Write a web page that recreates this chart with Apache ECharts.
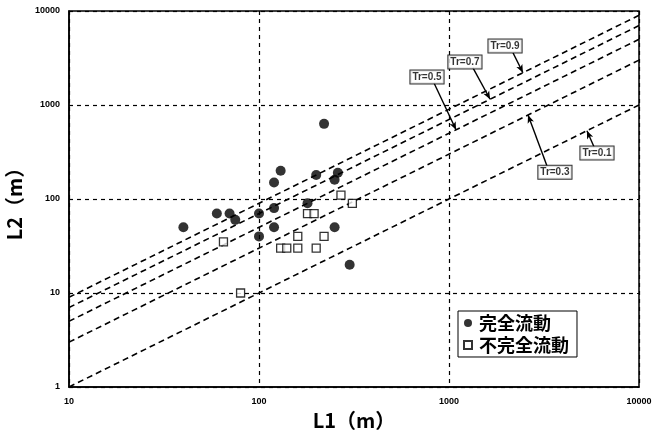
<!DOCTYPE html>
<html>
<head>
<meta charset="utf-8">
<script src="https://cdn.jsdelivr.net/npm/echarts@6/dist/echarts.min.js"></script>
<style>
  html, body { margin: 0; padding: 0; background: #fff; }
  #chart { width: 664px; height: 431px; }
</style>
</head>
<body>
<div id="chart"></div>
<script>
// 完全流動 (filled circles): [L1, L2]
const fullFlow = [
  [40, 50], [60, 70], [70, 70], [75, 60], [100, 70], [100, 40],
  [120, 80], [120, 50], [120, 150], [130, 200], [180, 90], [200, 180],
  [220, 630], [250, 160], [260, 190], [250, 50], [300, 20]
];
// 不完全流動 (open squares): [L1, L2]
const partialFlow = [
  [65, 35], [80, 10], [130, 30], [140, 30], [160, 40], [160, 30],
  [180, 70], [195, 70], [200, 30], [220, 40], [270, 110], [310, 90]
];

// Tr lines: L2 = Tr * L1
const trValues = [0.1, 0.3, 0.5, 0.7, 0.9];
const lineL1 = [10, 10000];
// label box centre, arrow start, arrow tip (L1 on the line)
const trLabelPos = [[6010, 308], [3610, 193], [766, 1987], [1213, 2870], [1972, 4250]];
const trArrowFrom = [[5800, 357], [3280, 224], [834, 1715], [1337, 2478], [2173, 3580]];
const trArrowToL1 = [5320, 2606, 1089, 1645, 2450];

const xTicks = [10, 100, 1000, 10000];
const yTicks = [1, 10, 100, 1000, 10000];

const chart = echarts.init(document.getElementById("chart"));

const tickFont = {
  fontFamily: "'Liberation Sans Narrow', 'Liberation Sans', Arial",
  fontWeight: "bold",
  fontSize: 9,
  color: "#000",
  formatter: (v) => String(Math.round(v)),
};

const series = [];

trValues.forEach((tr, i) => {
  const tipL1 = trArrowToL1[i];
  series.push({
    name: "Tr=" + tr,
    type: "line",
    symbol: "none",
    silent: true,
    lineStyle: { color: "#000", width: 1.6, type: [6, 4] },
    data: lineL1.map((x) => [x, x * tr]),
    markLine: {
      silent: true,
      symbol: ["none", "arrow"],
      symbolSize: [5, 8],
      lineStyle: { color: "#000", width: 1.4, type: "solid" },
      label: { show: false },
      data: [[{ coord: trArrowFrom[i] }, { coord: [tipL1, tipL1 * tr] }]],
    },
  });
});

// label boxes
series.push({
  name: "trLabels",
  type: "scatter",
  symbolSize: 0,
  silent: true,
  z: 5,
  label: {
    show: true,
    position: "inside",
    formatter: (p) => p.data.label,
    fontFamily: "'Liberation Sans Narrow', 'Liberation Sans', Arial",
    fontWeight: "bold",
    fontSize: 10,
    color: "#000",
    backgroundColor: "#fff",
    borderColor: "#000",
    borderWidth: 1,
    padding: [2, 2, 1, 2],
  },
  data: trValues.map((tr, i) => ({ value: trLabelPos[i], label: "Tr=" + tr })),
});

series.push({
  name: "完全流動",
  type: "scatter",
  symbol: "circle",
  symbolSize: 10,
  z: 4,
  itemStyle: { color: "#000" },
  data: fullFlow,
});

series.push({
  name: "不完全流動",
  type: "scatter",
  symbol: "rect",
  symbolSize: 8,
  z: 4,
  itemStyle: { color: "#fff", borderColor: "#000", borderWidth: 1.3 },
  data: partialFlow,
});

chart.setOption({
  animation: false,
  backgroundColor: "#fff",
  grid: {
    left: 69,
    right: 25,
    top: 11,
    bottom: 44,
    outerBoundsMode: "none",
    show: true,
    borderColor: "#000",
    borderWidth: 1.5,
  },
  legend: {
    data: [
      { name: "完全流動", icon: "circle" },
      { name: "不完全流動", icon: "rect" },
    ],
    orient: "vertical",
    left: 458,
    top: 311,
    itemWidth: 8,
    itemHeight: 8,
    itemGap: 4,
    padding: [3, 8, 3, 5],
    borderColor: "#000",
    borderWidth: 1,
    backgroundColor: "#fff",
    textStyle: {
      fontFamily: "'Noto Sans CJK JP'",
      fontWeight: "bold",
      fontSize: 18,
      padding: [0, 0, 0, 2],
      color: "#000",
    },
  },
  xAxis: {
    type: "log",
    logBase: 10,
    min: xTicks[0],
    max: xTicks[xTicks.length - 1],
    name: "L1（m）",
    nameLocation: "middle",
    nameGap: 20,
    nameTextStyle: {
      fontFamily: "'Noto Sans CJK JP'",
      fontWeight: "bold",
      fontSize: 20,
      color: "#000",
    },
    axisLine: { lineStyle: { color: "#000", width: 1.5 } },
    axisTick: { show: false },
    axisLabel: { ...tickFont, margin: 10 },
    splitLine: { show: true, lineStyle: { color: "#000", width: 1.2, type: [4, 4] } },
  },
  yAxis: {
    type: "log",
    logBase: 10,
    min: yTicks[0],
    max: yTicks[yTicks.length - 1],
    name: "L2（m）",
    nameLocation: "middle",
    nameGap: 38,
    nameRotate: 90,
    nameTextStyle: {
      fontFamily: "'Noto Sans CJK JP'",
      fontWeight: "bold",
      fontSize: 20,
      color: "#000",
    },
    axisLine: { lineStyle: { color: "#000", width: 1.5 } },
    axisTick: { show: false },
    axisLabel: { ...tickFont, margin: 9 },
    splitLine: { show: true, lineStyle: { color: "#000", width: 1.2, type: [4, 4] } },
  },
  series: series,
});
</script>
</body>
</html>
